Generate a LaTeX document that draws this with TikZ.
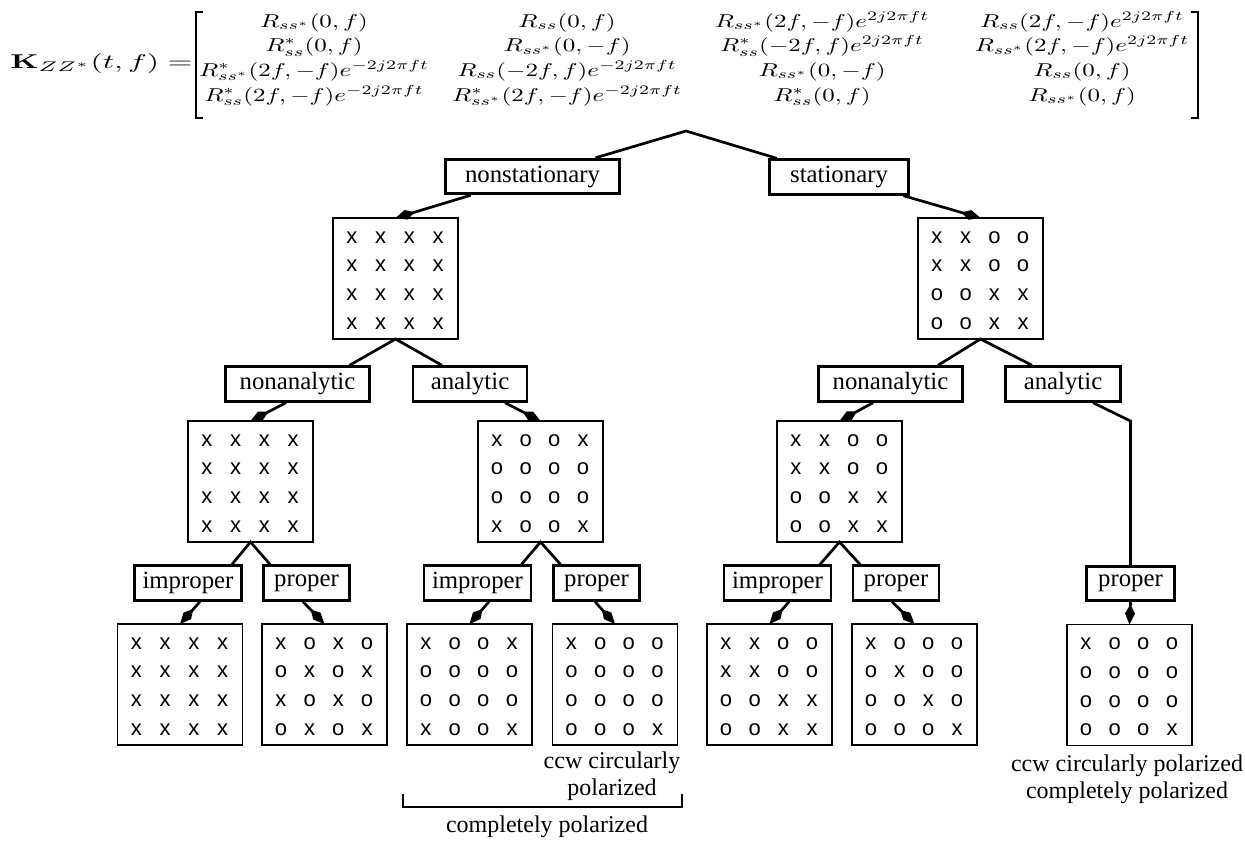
\documentclass[tikz,border=0pt]{standalone}
\usepackage[no-math]{fontspec}
\usepackage{graphicx}
\usetikzlibrary{arrows.meta,calc}
\newfontfamily\labfont{Liberation Serif}
\newfontfamily\gridfont{Liberation Sans}
\newcommand\gline[4]{\hbox to 62.5pt{\vrule width 0pt height 10pt depth 4.35pt\hskip 2.3pt\makebox[14.35pt]{#1}\makebox[14.35pt]{#2}\makebox[14.35pt]{#3}\makebox[14.35pt]{#4}\hss}}
\newcommand\gridtxt[4]{\vbox to 60.5pt{\gridfont\fontsize{11}{14.35}\selectfont\offinterlineskip\kern2.6pt\gline#1\gline#2\gline#3\gline#4\vss}}
\newcommand\ment[1]{\scalebox{1.25}[0.93]{$#1$}}
\tikzset{
  lab/.style={draw, line width=1.4pt, font=\labfont\fontsize{12.4}{14}\selectfont, inner sep=0pt, minimum height=17.3pt},
  gridbox/.style={draw, line width=0.65pt, inner sep=0pt, outer sep=0pt},
  conn/.style={line width=1.35pt},
  arr/.style={conn, -{Kite[length=10pt,width=5pt,inset=4.5pt]}},
  txt/.style={font=\labfont\fontsize{12}{13.5}\selectfont, align=center, inner sep=0pt},
  ent/.style={anchor=base, inner sep=0pt},
  brk/.style={line width=0.8pt}
}
\begin{document}
\begin{tikzpicture}[x=0.5pt,y=-0.5pt]
\useasboundingbox (0,0) rectangle (1245,842);
% matrix
\node[anchor=base west, inner sep=0pt] (K) at (10,68) {\scalebox{1.57}[1]{$\mathbf{K}_{ZZ^*}(t,f)=$}};
\node[ent] (m11) at (314,27) {\ment{R_{ss^*}(0,f)}};
\node[ent] (m12) at (567,27) {\ment{R_{ss}(0,f)}};
\node[ent] (m13) at (822,27) {\ment{R_{ss^*}(2f,-f)e^{2j2\pi ft}}};
\node[ent] (m14) at (1082,27) {\ment{R_{ss}(2f,-f)e^{2j2\pi ft}}};
\node[ent] (m21) at (314,51.5) {\ment{R^*_{ss}(0,f)}};
\node[ent] (m22) at (567,51.5) {\ment{R_{ss^*}(0,-f)}};
\node[ent] (m23) at (822,51.5) {\ment{R^*_{ss}(-2f,f)e^{2j2\pi ft}}};
\node[ent] (m24) at (1082,51.5) {\ment{R_{ss^*}(2f,-f)e^{2j2\pi ft}}};
\node[ent] (m31) at (314,76) {\ment{R^*_{ss^*}(2f,-f)e^{-2j2\pi ft}}};
\node[ent] (m32) at (567,76) {\ment{R_{ss}(-2f,f)e^{-2j2\pi ft}}};
\node[ent] (m33) at (822,76) {\ment{R_{ss^*}(0,-f)}};
\node[ent] (m34) at (1082,76) {\ment{R_{ss}(0,f)}};
\node[ent] (m41) at (314,101) {\ment{R^*_{ss}(2f,-f)e^{-2j2\pi ft}}};
\node[ent] (m42) at (567,101) {\ment{R^*_{ss^*}(2f,-f)e^{-2j2\pi ft}}};
\node[ent] (m43) at (822,101) {\ment{R^*_{ss}(0,f)}};
\node[ent] (m44) at (1082,101) {\ment{R_{ss^*}(0,f)}};
\coordinate (lbt) at (203,12);
\coordinate (lbb) at (203,118);
\coordinate (rbt) at (1191,12);
\coordinate (rbb) at (1191,118);
\draw[brk] (lbt) -- ++(-7,0) |- (lbb);
\draw[brk] (rbt) -- ++(7,0) |- (rbb);
% labels
\node[lab, minimum width=87pt] (ns) at (532.5,176.5) {nonstationary};
\node[lab, minimum width=69.5pt] (st) at (839,177) {stationary};
\node[lab, minimum width=72pt] (na1) at (297.5,384) {nonanalytic};
\node[lab, minimum width=57pt] (an1) at (470,384) {analytic};
\node[lab, minimum width=72pt] (na2) at (890.5,384) {nonanalytic};
\node[lab, minimum width=57.5pt] (an2) at (1063,384) {analytic};
\node[lab, minimum width=53.5pt] (im1) at (188,583) {improper};
\node[lab, minimum width=43pt] (pr1) at (306.5,583) {proper};
\node[lab, minimum width=53.5pt] (im2) at (477.5,583) {improper};
\node[lab, minimum width=43pt] (pr2) at (596.5,583) {proper};
\node[lab, minimum width=53.5pt] (im3) at (777.5,583) {improper};
\node[lab, minimum width=43pt] (pr3) at (896,583) {proper};
\node[lab, minimum width=44pt] (pr4) at (1130.5,583.5) {proper};
% grids
\node[gridbox] (g1) at (395.5,278.5) {\gridtxt{xxxx}{xxxx}{xxxx}{xxxx}};
\node[gridbox] (g2) at (980.5,278.5) {\gridtxt{xxoo}{xxoo}{ooxx}{ooxx}};
\node[gridbox] (g3) at (250.5,481.5) {\gridtxt{xxxx}{xxxx}{xxxx}{xxxx}};
\node[gridbox] (g4) at (540.5,481.5) {\gridtxt{xoox}{oooo}{oooo}{xoox}};
\node[gridbox] (g5) at (839.5,481.5) {\gridtxt{xxoo}{xxoo}{ooxx}{ooxx}};
\node[gridbox] (g6) at (180,684.5) {\gridtxt{xxxx}{xxxx}{xxxx}{xxxx}};
\node[gridbox] (g7) at (324.5,684.5) {\gridtxt{xoxo}{oxox}{xoxo}{oxox}};
\node[gridbox] (g8) at (469.5,684.5) {\gridtxt{xoox}{oooo}{oooo}{xoox}};
\node[gridbox] (g9) at (615,684.5) {\gridtxt{xooo}{oooo}{oooo}{ooox}};
\node[gridbox] (g10) at (769.5,684.5) {\gridtxt{xxoo}{xxoo}{ooxx}{ooxx}};
\node[gridbox] (g11) at (914.5,684.5) {\gridtxt{xooo}{oxoo}{ooxo}{ooox}};
\node[gridbox] (gR) at (1129.5,685) {\gridtxt{xooo}{oooo}{oooo}{ooox}};
% connectors
\coordinate (apex) at (686,131);
\draw[conn] (ns) -- (apex) -- (st);
\draw[arr] (ns) -- (g1.north);
\draw[arr] (st) -- (g2.north);
\draw[conn] ($(na1.north)+(52,0)$) -- (g1.south) -- ($(an1.north)+(-28,0)$);
\draw[arr] ($(na1.south)+(-11.5,0)$) -- (g3.north);
\draw[arr] ($(an1.south)+(35,0)$) -- (g4.north);
\draw[conn] ($(na2.north)+(47.5,0)$) -- (g2.south) -- ($(an2.north)+(-31,0)$);
\draw[arr] ($(na2.south)+(-17.5,0)$) -- (g5.north);
\coordinate (bend) at (1130.5,421);
\draw[conn] ($(an2.south)+(30,0)$) -- (bend) -- (pr4.north);
\draw[arr] (pr4.south) -- (gR.north);
\draw[conn] ($(im1.north)+(44,0)$) -- (g3.south) -- ($(pr1.north)+(-36.5,0)$);
\draw[arr] ($(im1.south)+(12,0)$) -- (g6.north);
\draw[arr] ($(pr1.south)+(-3.5,0)$) -- (g7.north);
\draw[conn] ($(im2.north)+(44,0)$) -- (g4.south) -- ($(pr2.north)+(-36,0)$);
\draw[arr] ($(im2.south)+(11.5,0)$) -- (g8.north);
\draw[arr] ($(pr2.south)+(-1.5,0)$) -- (g9.north);
\draw[conn] ($(im3.north)+(42.5,0)$) -- (g5.south) -- ($(pr3.north)+(-36,0)$);
\draw[arr] ($(im3.south)+(11.5,0)$) -- (g10.north);
\draw[arr] ($(pr3.south)+(-4,0)$) -- (g11.north);
% captions
\node[txt] (ccw1) at (612,776) {ccw circularly\\polarized};
\node[txt] (ccw2) at (1127,779) {ccw circularly polarized\\completely polarized};
\node[txt] (cp) at (547,827) {completely polarized};
\coordinate (bl) at (403,794);
\coordinate (br) at (682,794);
\draw[line width=1.4pt] (bl) -- ++(0,13) -| (br);
\end{tikzpicture}
\end{document}
